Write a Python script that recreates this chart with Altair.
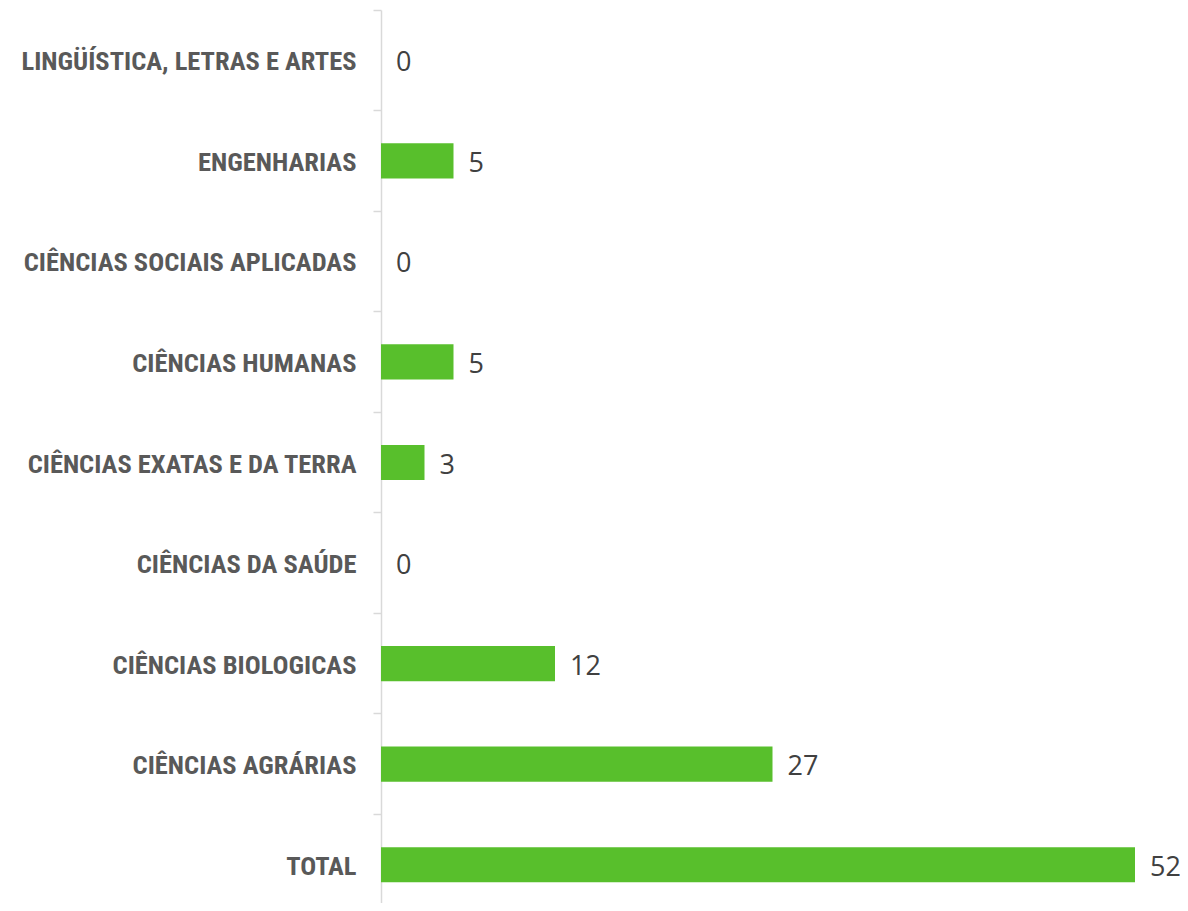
import altair as alt
import pandas as pd

categories = ["LINGÜÍSTICA, LETRAS E ARTES", "ENGENHARIAS", "CIÊNCIAS SOCIAIS APLICADAS",
              "CIÊNCIAS HUMANAS", "CIÊNCIAS EXATAS E DA TERRA", "CIÊNCIAS DA SAÚDE",
              "CIÊNCIAS BIOLOGICAS", "CIÊNCIAS AGRÁRIAS", "TOTAL"]
values = [0, 5, 0, 5, 3, 0, 12, 27, 52]

df = pd.DataFrame({"cat": categories, "val": values})

y = alt.Y("cat:N", sort=None, title=None,
          scale=alt.Scale(paddingInner=0, paddingOuter=0, range=[0, 905]),
          axis=alt.Axis(bandPosition=0, domainColor="#D9D9D9", domainWidth=1.5,
                        tickColor="#D9D9D9", tickSize=8, tickWidth=1.5,
                        labelPadding=17, labelFont="Roboto Condensed",
                        labelFontWeight="bold", labelFontSize=26.5, labelColor="#595959",
                        labelOffset=2, labelLimit=400))
x = alt.X("val:Q", title=None, scale=alt.Scale(domain=[0, 52], nice=False), axis=None)

bars = alt.Chart(df).mark_bar(color="#58BF2C", height={"band": 0.35}).encode(x=x, y=y)
text = alt.Chart(df).mark_text(align="left", dx=15, dy=3, font="Open Sans", fontSize=27,
                               color="#404040").encode(x=x, y=y, text="val:Q")

chart = (bars + text).properties(
    width=754, height=893,
    padding={"left": 373, "top": 2, "right": 45, "bottom": 0},
    autosize=alt.AutoSizeParams(type="none"),
).configure_view(stroke=None)

chart.save("out.html", embed_options={"renderer": "svg", "actions": False})
